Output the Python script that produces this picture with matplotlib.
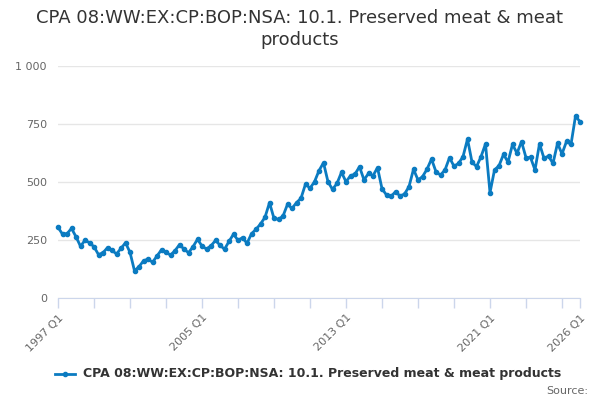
import matplotlib.pyplot as plt
import numpy as np

title = "CPA 08:WW:EX:CP:BOP:NSA: 10.1. Preserved meat & meat\nproducts"
series_name = "CPA 08:WW:EX:CP:BOP:NSA: 10.1. Preserved meat & meat products"

# quarterly, 1997 Q1 .. 2026 Q1
quarters = [f"{1997 + k // 4} Q{k % 4 + 1}" for k in range(117)]
values = [
    305, 275, 277, 300, 264, 223, 249, 238, 221, 187,
    195, 217, 205, 190, 214, 238, 197, 117, 135, 160,
    168, 154, 181, 208, 197, 185, 204, 230, 211, 195,
    221, 253, 224, 211, 225, 248, 228, 210, 244, 275,
    249, 260, 236, 277, 296, 319, 348, 411, 343, 339,
    353, 404, 386, 411, 430, 491, 473, 501, 549, 583,
    501, 468, 494, 542, 501, 527, 534, 566, 509, 537,
    527, 562, 471, 444, 438, 458, 440, 448, 480, 555,
    509, 523, 555, 599, 544, 530, 552, 605, 568, 580,
    609, 685, 586, 566, 609, 664, 454, 552, 570, 619,
    586, 662, 624, 674, 605, 606, 552, 665, 602, 612,
    580, 667, 621, 675, 662, 784, 760,
]
y_ticks = [0, 250, 500, 750, 1000]
y_tick_labels = ["0", "250", "500", "750", "1 000"]

line_color = "#0b7bc1"
grid_color = "#e6e6e6"
axis_color = "#ccd6eb"
label_color = "#666666"

fig = plt.figure(figsize=(6, 4), dpi=100)
ax = fig.add_axes([58 / 600, 1 - 298 / 400, 522 / 600, 232 / 400])

x = np.arange(len(values))
ax.plot(x, values, color=line_color, linewidth=2, marker="o", markersize=3,
        zorder=3, clip_on=False)

ax.set_xlim(0, len(values) - 1)
ax.set_ylim(0, 1000)

ax.set_yticks(y_ticks)
ax.set_yticklabels(y_tick_labels)
ax.grid(axis="y", color=grid_color, linewidth=1)
ax.set_axisbelow(True)

# tick marks every two years, labels every eight years plus the last quarter
tick_pos = list(range(0, len(values), 8)) + [len(values) - 1]
ax.set_xticks(tick_pos)
labels = []
for p in tick_pos:
    labels.append(quarters[p] if p % 32 == 0 or p == len(values) - 1 else "")
ax.set_xticklabels(labels, rotation=45, ha="right", rotation_mode="anchor")

for side in ["top", "right", "left"]:
    ax.spines[side].set_visible(False)
ax.spines["bottom"].set_color(axis_color)
ax.tick_params(axis="x", colors=axis_color, length=7.5, width=1, labelcolor=label_color,
               labelsize=8, pad=3)
ax.tick_params(axis="y", length=0, labelcolor=label_color, labelsize=8, pad=8)

fig.text(0.5, 1 - 29 / 400, title, ha="center", va="center", fontsize=13,
         color="#333333", linespacing=1.25)

# legend drawn manually below the plot
fig.lines.append(plt.Line2D([55 / 600, 75 / 600], [1 - 374 / 400] * 2, color=line_color,
                            linewidth=2, transform=fig.transFigure))
fig.lines.append(plt.Line2D([65 / 600], [1 - 374 / 400], color=line_color, marker="o",
                            markersize=3, transform=fig.transFigure))
fig.text(83 / 600, 1 - 374 / 400, series_name, ha="left", va="center", fontsize=9,
         fontweight="bold", color="#333333")
fig.text(588 / 600, 1 - 391 / 400, "Source:", ha="right", va="center", fontsize=8,
         color="#666666")

fig.savefig("out.png", dpi=100)
